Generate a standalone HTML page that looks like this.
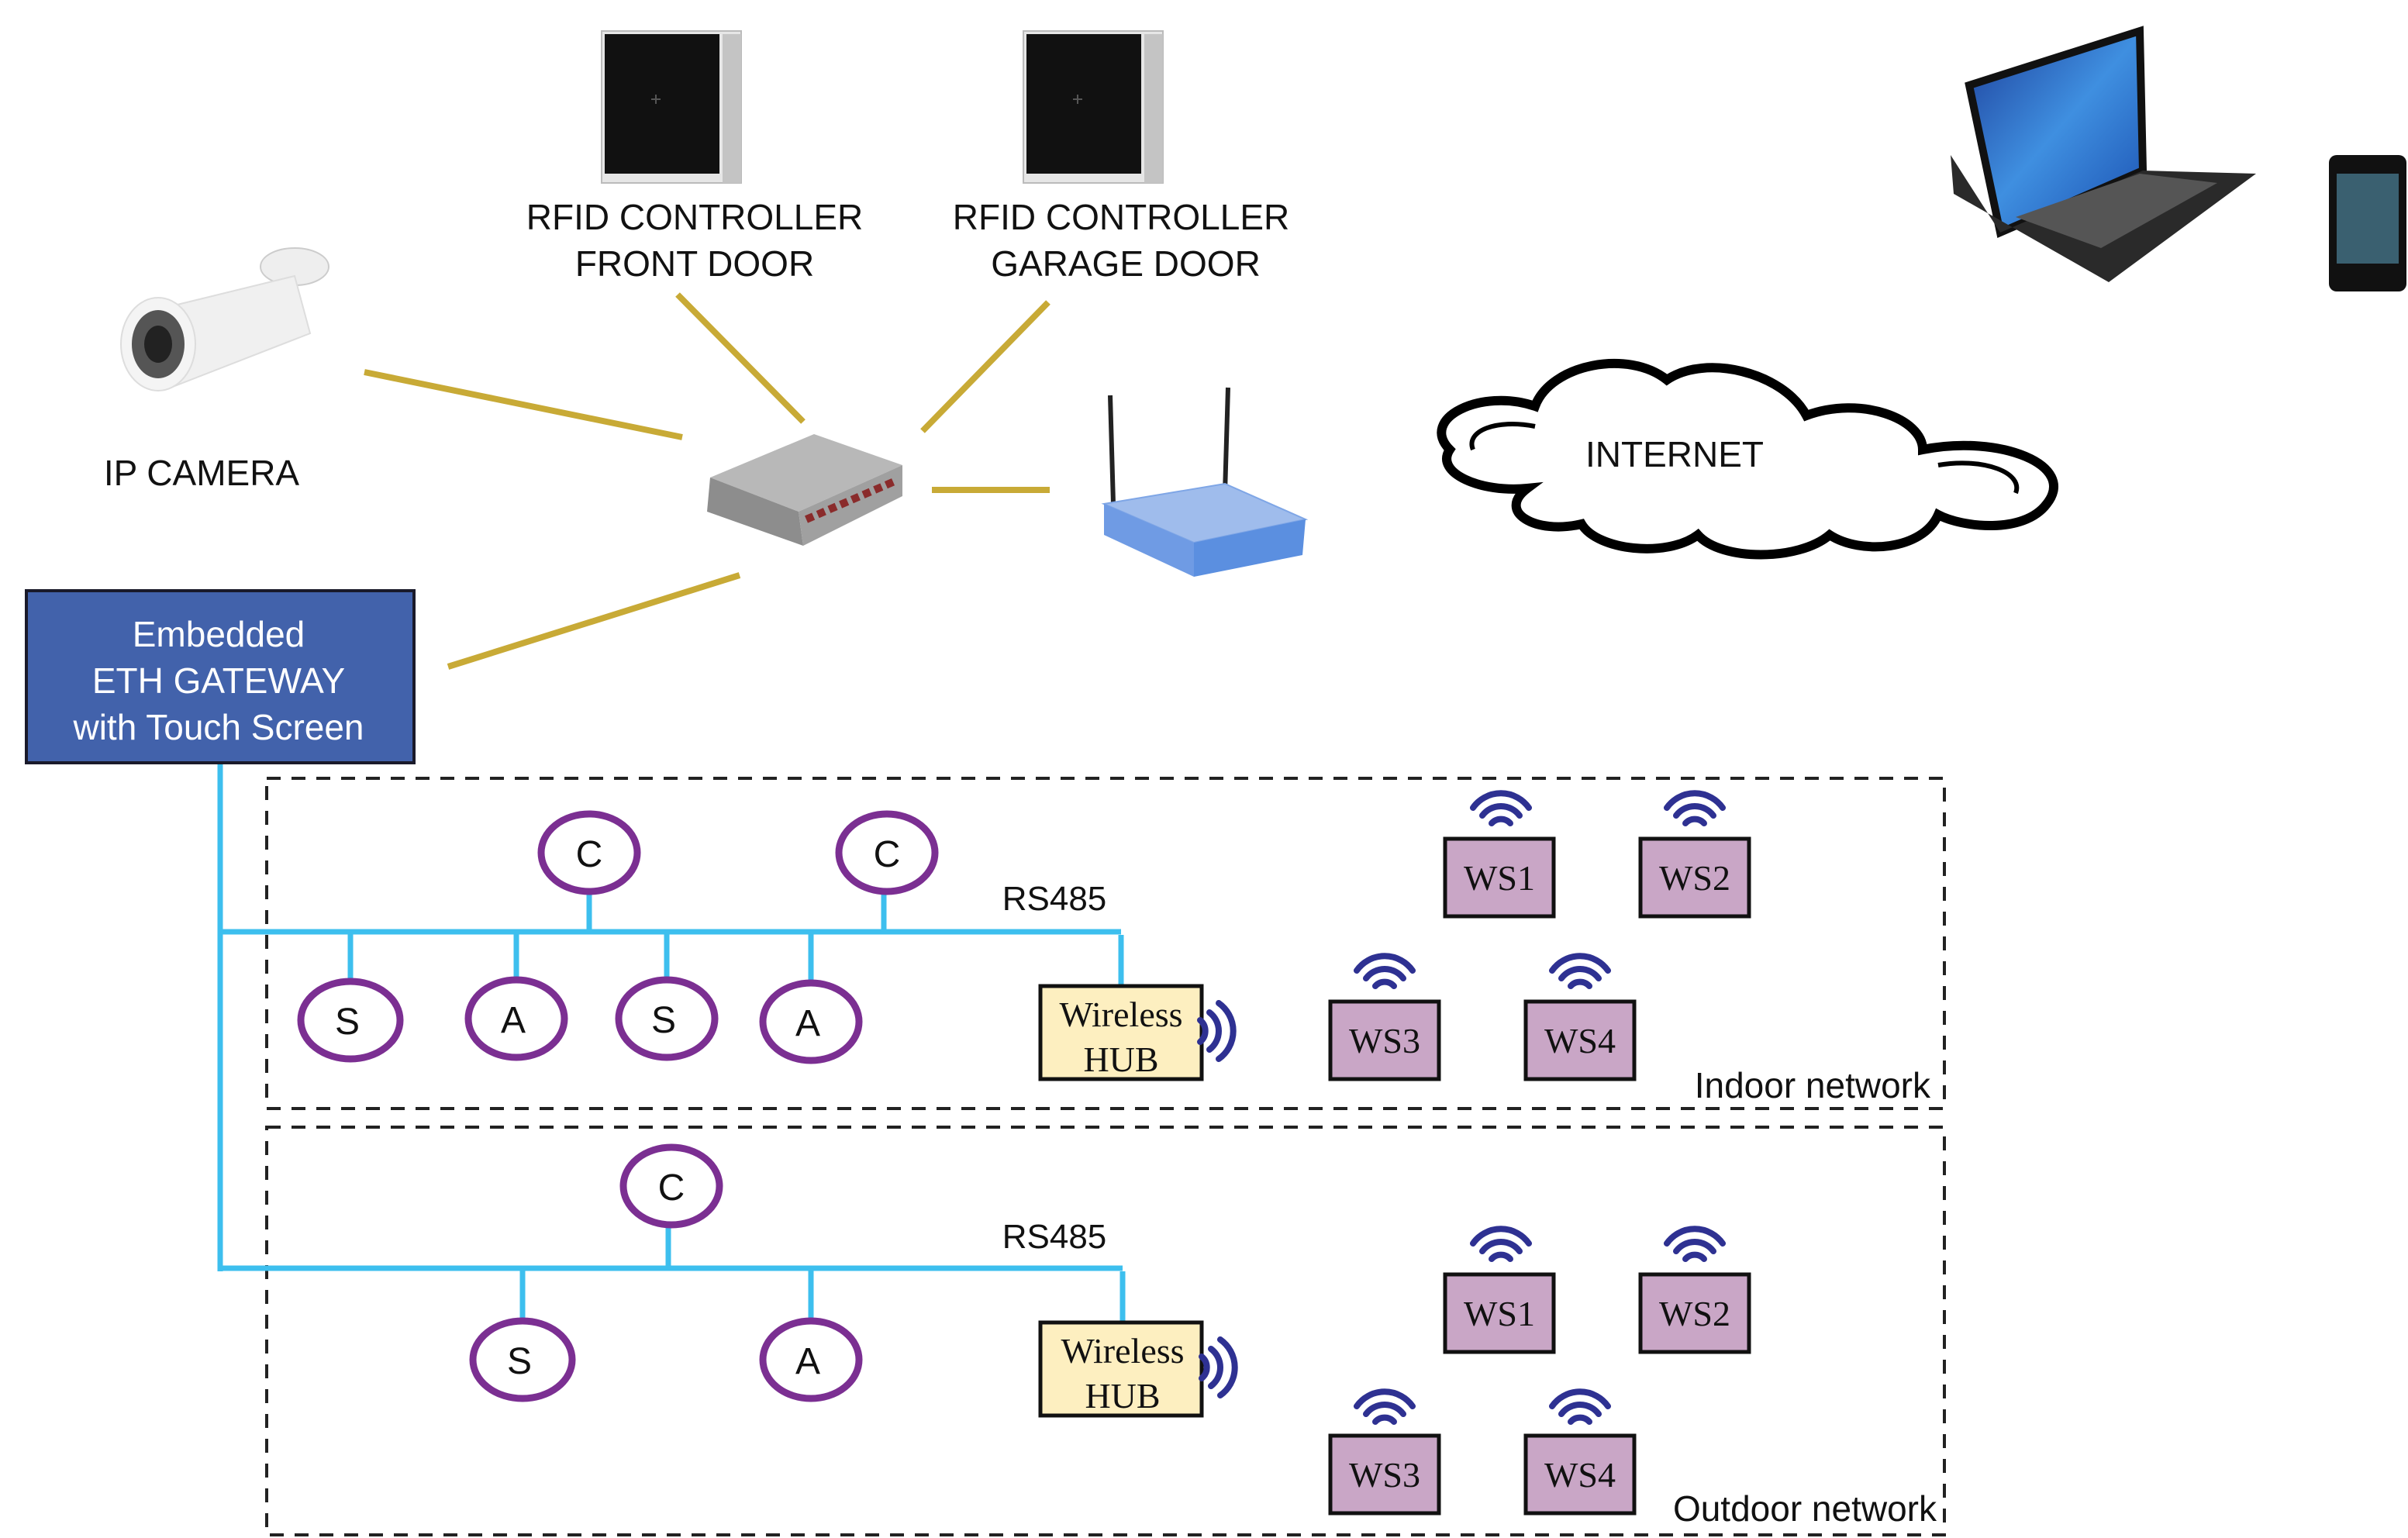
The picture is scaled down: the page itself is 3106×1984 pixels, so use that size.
<!DOCTYPE html>
<html><head><meta charset="utf-8"><style>
html,body{margin:0;padding:0;background:#fff}
svg{display:block}
.s{font-family:"Liberation Sans",sans-serif}
.r{font-family:"Liberation Serif",serif}
</style></head><body>
<svg width="3106" height="1984" viewBox="0 0 1553 992" xmlns="http://www.w3.org/2000/svg">
<defs>
<g id="wifi" fill="none" stroke="#2e3192" stroke-width="4" stroke-linecap="round">
<path d="M-18,-4 A22,22 0 0 1 18,-4"/>
<path d="M-12,1 A15,15 0 0 1 12,1"/>
<path d="M-6,6 A8,8 0 0 1 6,6"/>
</g>
<g id="wave" fill="none" stroke="#2e3192" stroke-width="4" stroke-linecap="round">
<path d="M-4,-18 A22,22 0 0 1 -4,18"/>
<path d="M-10,-12 A15,15 0 0 1 -10,12"/>
<path d="M-16,-7 A9,9 0 0 1 -16,7"/>
</g>
<linearGradient id="lap" x1="0" y1="0" x2="1" y2="1"><stop offset="0" stop-color="#1d3f9a"/><stop offset="0.5" stop-color="#3f8fe0"/><stop offset="1" stop-color="#1a4fb0"/></linearGradient>
<linearGradient id="rt" x1="0" y1="0" x2="0" y2="1"><stop offset="0" stop-color="#a9c4ef"/><stop offset="1" stop-color="#5b8fe0"/></linearGradient>
</defs>

<!-- RFID panels -->
<g>
<rect x="388" y="20" width="90" height="98" fill="#e6e6e6" stroke="#bbb"/>
<rect x="466" y="22" width="12" height="96" fill="#c4c4c4"/>
<rect x="390" y="22" width="74" height="90" fill="#111"/>
<rect x="660" y="20" width="90" height="98" fill="#e6e6e6" stroke="#bbb"/>
<rect x="738" y="22" width="12" height="96" fill="#c4c4c4"/>
<rect x="662" y="22" width="74" height="90" fill="#111"/>
<path d="M420,64 h6 M423,61 v6 M692,64 h6 M695,61 v6" stroke="#555" stroke-width="1"/>
</g>
<text class="s" font-size="23" text-anchor="middle" fill="#111"><tspan x="448" y="148">RFID CONTROLLER</tspan><tspan x="448" y="178">FRONT DOOR</tspan></text>
<text class="s" font-size="23" text-anchor="middle" fill="#111"><tspan x="723" y="148">RFID CONTROLLER</tspan><tspan x="726" y="178">GARAGE DOOR</tspan></text>

<!-- camera -->
<g>
<ellipse cx="190" cy="172" rx="22" ry="12" fill="#eee" stroke="#ccc"/>
<path d="M100,200 L190,178 L200,215 L110,250 Z" fill="#f0f0f0" stroke="#ddd"/>
<ellipse cx="102" cy="222" rx="24" ry="30" fill="#f4f4f4" stroke="#ddd"/>
<ellipse cx="102" cy="222" rx="17" ry="22" fill="#555"/>
<ellipse cx="102" cy="222" rx="9" ry="12" fill="#222"/>
</g>
<text class="s" x="130" y="313" font-size="23" text-anchor="middle" fill="#111">IP CAMERA</text>

<!-- gold links -->
<g stroke="#c8aa36" stroke-width="4">
<line x1="235" y1="240" x2="440" y2="282"/>
<line x1="437" y1="190" x2="518" y2="272"/>
<line x1="676" y1="195" x2="595" y2="278"/>
<line x1="601" y1="316" x2="677" y2="316"/>
<line x1="289" y1="430" x2="477" y2="371"/>
</g>

<!-- switch -->
<path d="M458,308 L525,280 L582,300 L515,330 Z" fill="#b8b8b8"/>
<path d="M458,308 L515,330 L518,352 L456,330 Z" fill="#8d8d8d"/>
<path d="M515,330 L582,300 L582,320 L518,352 Z" fill="#a0a0a0"/>
<path d="M520,335 L578,310" stroke="#8a2b2b" stroke-width="5" stroke-dasharray="5,3"/>

<!-- router -->
<line x1="716" y1="255" x2="718" y2="325" stroke="#222" stroke-width="3"/>
<line x1="792" y1="250" x2="790" y2="318" stroke="#222" stroke-width="3"/>
<path d="M712,325 L790,312 L842,335 L770,350 Z" fill="#9fbcec" stroke="#7fa6e6"/>
<path d="M712,325 L770,350 L770,372 L712,345 Z" fill="#6f9be4"/>
<path d="M770,350 L842,335 L840,358 L770,372 Z" fill="#5b8fe0"/>

<!-- cloud -->
<path d="M935,290 C915,270 955,250 990,262 C1000,235 1050,225 1075,245 C1100,228 1150,240 1165,268 C1200,255 1240,270 1240,290 C1290,280 1340,300 1320,325 C1305,345 1265,340 1250,332 C1240,355 1200,358 1180,345 C1160,362 1110,362 1095,345 C1075,360 1030,355 1020,338 C990,345 965,330 985,315 C955,318 925,305 935,290 Z" fill="#fff" stroke="#000" stroke-width="6"/>
<path d="M950,290 C945,278 965,270 990,275 M1250,300 C1280,295 1305,305 1300,318" fill="none" stroke="#000" stroke-width="3"/>
<text class="s" x="1080" y="301" font-size="23" text-anchor="middle" fill="#111">INTERNET</text>

<!-- laptop -->
<path d="M1270,55 L1380,20 L1382,110 L1290,150 Z" fill="url(#lap)" stroke="#111" stroke-width="5"/>
<path d="M1258,100 L1290,150 L1382,110 L1455,112 L1360,182 L1260,125 Z" fill="#2a2a2a"/>
<path d="M1300,140 L1380,112 L1430,118 L1355,160 Z" fill="#555"/>
<!-- phone -->
<rect x="1502" y="100" width="50" height="88" rx="5" fill="#111"/>
<rect x="1507" y="112" width="40" height="58" fill="#3a6070"/>

<!-- gateway -->
<rect x="17" y="381" width="250" height="111" fill="#4262ab" stroke="#1a1a2a" stroke-width="2"/>
<text class="s" font-size="23" text-anchor="middle" fill="#fff"><tspan x="141" y="417">Embedded</tspan><tspan x="141" y="447">ETH GATEWAY</tspan><tspan x="141" y="477">with Touch Screen</tspan></text>

<!-- dashed boxes -->
<g fill="none" stroke="#222" stroke-width="2" stroke-dasharray="9,7">
<rect x="172" y="502" width="1082" height="213"/>
<rect x="172" y="727" width="1082" height="263"/>
</g>

<!-- blue buses -->
<g stroke="#3dbfee" stroke-width="3.5" fill="none">
<line x1="142" y1="493" x2="142" y2="820"/>
<line x1="142" y1="601" x2="723" y2="601"/>
<line x1="142" y1="818" x2="724" y2="818"/>
<line x1="380" y1="575" x2="380" y2="601"/>
<line x1="570" y1="575" x2="570" y2="601"/>
<line x1="226" y1="601" x2="226" y2="633"/>
<line x1="333" y1="601" x2="333" y2="632"/>
<line x1="430" y1="601" x2="430" y2="632"/>
<line x1="523" y1="601" x2="523" y2="634"/>
<line x1="723" y1="603" x2="723" y2="635"/>
<line x1="431" y1="790" x2="431" y2="818"/>
<line x1="337" y1="818" x2="337" y2="852"/>
<line x1="523" y1="818" x2="523" y2="852"/>
<line x1="724" y1="820" x2="724" y2="852"/>
</g>

<!-- circles -->
<g fill="#fff" stroke="#7b2f92" stroke-width="4.5">
<ellipse cx="380" cy="550" rx="31" ry="25"/>
<ellipse cx="572" cy="550" rx="31" ry="25"/>
<ellipse cx="226" cy="658" rx="32" ry="25"/>
<ellipse cx="333" cy="657" rx="31" ry="25"/>
<ellipse cx="430" cy="657" rx="31" ry="25"/>
<ellipse cx="523" cy="659" rx="31" ry="25"/>
<ellipse cx="433" cy="765" rx="31" ry="25"/>
<ellipse cx="337" cy="877" rx="32" ry="25"/>
<ellipse cx="523" cy="877" rx="31" ry="25"/>
</g>
<g class="s" font-size="24" text-anchor="middle" fill="#111">
<text x="380" y="559">C</text><text x="572" y="559">C</text>
<text x="224" y="667">S</text><text x="331" y="666">A</text><text x="428" y="666">S</text><text x="521" y="668">A</text>
<text x="433" y="774">C</text><text x="335" y="886">S</text><text x="521" y="886">A</text>
</g>
<text class="s" x="680" y="587" font-size="22" text-anchor="middle" fill="#111">RS485</text>
<text class="s" x="680" y="805" font-size="22" text-anchor="middle" fill="#111">RS485</text>

<!-- hubs -->
<g fill="#fdefc0" stroke="#111" stroke-width="2.5">
<rect x="671" y="636" width="104" height="60"/>
<rect x="671" y="853" width="104" height="60"/>
</g>
<g class="r" font-size="23" text-anchor="middle" fill="#111">
<text x="723" y="662">Wireless</text><text x="723" y="691">HUB</text>
<text x="724" y="879">Wireless</text><text x="724" y="908">HUB</text>
</g>
<use href="#wave" x="790" y="665"/>
<use href="#wave" x="791" y="882"/>

<!-- WS boxes -->
<g fill="#c9a6c6" stroke="#111" stroke-width="2.5">
<rect x="932" y="541" width="70" height="50"/>
<rect x="1058" y="541" width="70" height="50"/>
<rect x="858" y="646" width="70" height="50"/>
<rect x="984" y="646" width="70" height="50"/>
<rect x="932" y="822" width="70" height="50"/>
<rect x="1058" y="822" width="70" height="50"/>
<rect x="858" y="926" width="70" height="50"/>
<rect x="984" y="926" width="70" height="50"/>
</g>
<g class="r" font-size="23" text-anchor="middle" fill="#111">
<text x="967" y="574">WS1</text><text x="1093" y="574">WS2</text>
<text x="893" y="679">WS3</text><text x="1019" y="679">WS4</text>
<text x="967" y="855">WS1</text><text x="1093" y="855">WS2</text>
<text x="893" y="959">WS3</text><text x="1019" y="959">WS4</text>
</g>
<use href="#wifi" x="968" y="525"/>
<use href="#wifi" x="1093" y="525"/>
<use href="#wifi" x="893" y="630"/>
<use href="#wifi" x="1019" y="630"/>
<use href="#wifi" x="968" y="806"/>
<use href="#wifi" x="1093" y="806"/>
<use href="#wifi" x="893" y="911"/>
<use href="#wifi" x="1019" y="911"/>

<text class="s" x="1245" y="708" font-size="23" text-anchor="end" fill="#111">Indoor network</text>
<text class="s" x="1249" y="981" font-size="23" text-anchor="end" fill="#111">Outdoor network</text>
</svg>
</body></html>
